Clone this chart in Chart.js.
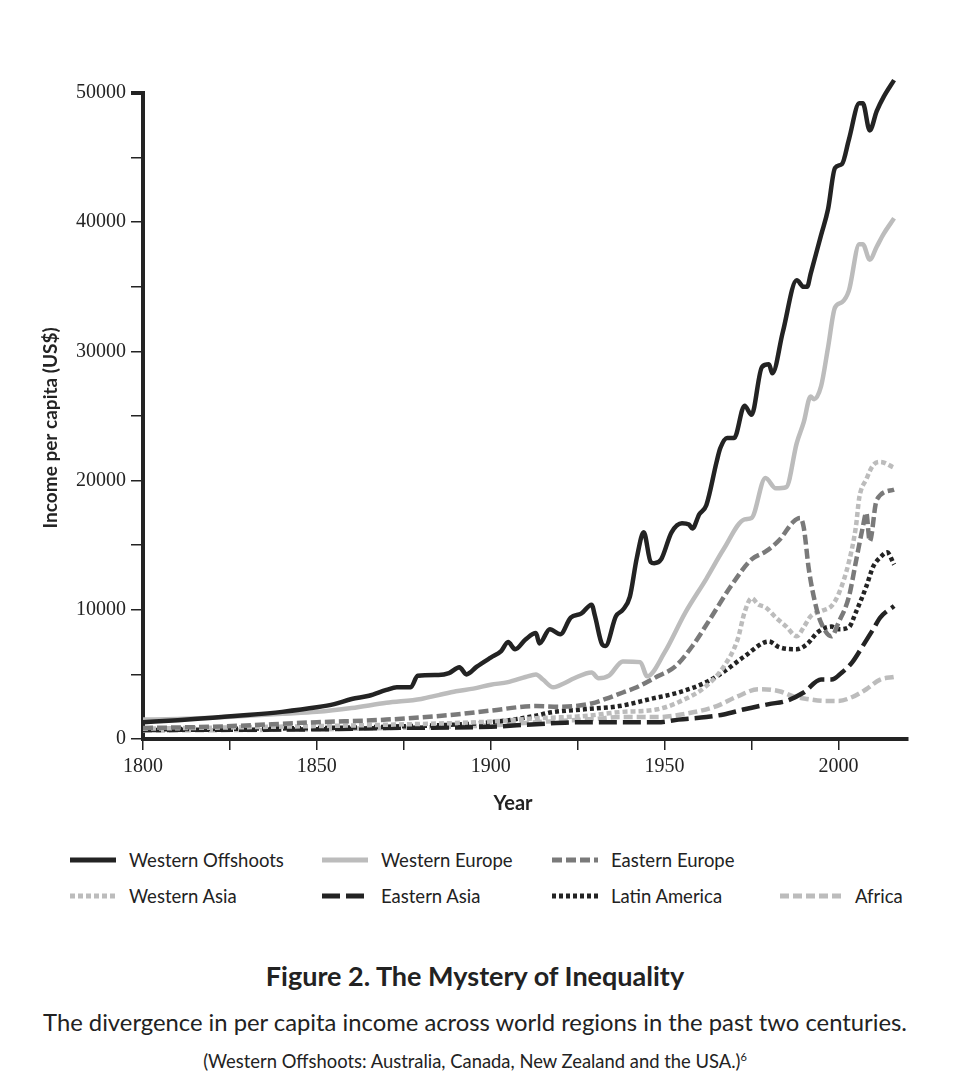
<!DOCTYPE html>
<html>
<head>
<meta charset="utf-8">
<script src="https://cdn.jsdelivr.net/npm/chart.js@4.4.0/dist/chart.umd.min.js"></script>
<style>
  body { margin: 0; background: #fff; width: 977px; height: 1085px; position: relative; overflow: hidden; font-family: Lato, sans-serif; color: #222; }
  #wrap { position: absolute; left: 0; top: 0; width: 977px; height: 830px; }
  .item { position: absolute; height: 20px; display: flex; align-items: center; font-size: 18.5px; white-space: nowrap; }
  .item svg { margin-right: 13px; }
  .caption { position: absolute; left: 0; width: 950px; text-align: center; white-space: nowrap; }
  #title { top: 959px; font-size: 27px; font-weight: bold; line-height: 34px; }
  #subtitle { top: 1007px; font-size: 23.8px; line-height: 30px; }
  #note { top: 1045px; font-size: 18.4px; line-height: 24px; }
  #note sup { font-size: 11px; }
</style>
</head>
<body>
<div id="wrap"><canvas id="chart" width="977" height="830"></canvas></div>
<div id="legend"></div>
<div class="caption" id="title">Figure 2. The Mystery of Inequality</div>
<div class="caption" id="subtitle">The divergence in per capita income across world regions in the past two centuries.</div>
<div class="caption" id="note">(Western Offshoots: Australia, Canada, New Zealand and the USA.)<sup>6</sup></div>
<script>
// --------------------------------
// || Data
// --------------------------------

const offshootsYears = [1800, 1810, 1820, 1830, 1840, 1850, 1855, 1860, 1865, 1870, 1873, 1877, 1879, 1885, 1888, 1891, 1893, 1896, 1900, 1903, 1905, 1907, 1910, 1913, 1914, 1917, 1920, 1923, 1926, 1929, 1930, 1932, 1933, 1936, 1938, 1940, 1942, 1944, 1946, 1947, 1949, 1952, 1955, 1957, 1958, 1960, 1962, 1965, 1966, 1968, 1970, 1973, 1975, 1978, 1980, 1981, 1984, 1988, 1990, 1991, 1992, 1995, 1997, 1999, 2001, 2003, 2006, 2007, 2009, 2011, 2013, 2016];
const offshootsIncome = [1300, 1450, 1650, 1850, 2100, 2450, 2700, 3100, 3350, 3800, 4000, 4000, 4900, 4950, 5100, 5550, 5000, 5600, 6300, 6800, 7500, 6950, 7700, 8200, 7400, 8500, 8100, 9400, 9700, 10400, 9500, 7350, 7200, 9500, 10000, 11000, 14000, 16000, 13700, 13600, 13900, 16000, 16700, 16600, 16300, 17400, 18100, 21500, 22500, 23300, 23300, 25800, 25100, 28800, 29000, 28300, 31500, 35500, 35000, 35000, 36000, 39000, 41000, 44200, 44500, 46400, 49200, 49200, 47100, 48600, 49700, 51000];

const westEuropeYears = [1800, 1810, 1820, 1830, 1840, 1850, 1860, 1870, 1880, 1885, 1890, 1895, 1900, 1905, 1910, 1913, 1915, 1918, 1921, 1924, 1929, 1931, 1934, 1938, 1943, 1945, 1950, 1956, 1962, 1967, 1973, 1975, 1979, 1982, 1985, 1988, 1990, 1992, 1993, 1995, 1997, 1999, 2001, 2003, 2006, 2007, 2009, 2011, 2013, 2016];
const westEuropeIncome = [1500, 1550, 1650, 1800, 1950, 2100, 2400, 2800, 3100, 3400, 3700, 3900, 4200, 4400, 4800, 5000, 4600, 4000, 4300, 4700, 5150, 4700, 4900, 6000, 5950, 4850, 6700, 9800, 12400, 14700, 17000, 17100, 20200, 19400, 19500, 22900, 24500, 26500, 26300, 27300, 30300, 33400, 33800, 34700, 38300, 38300, 37100, 38100, 39100, 40300];

const eastEuropeYears = [1800, 1820, 1850, 1870, 1890, 1900, 1913, 1920, 1929, 1933, 1938, 1942, 1948, 1953, 1958, 1963, 1969, 1975, 1979, 1983, 1987, 1989, 1990, 1991.5, 1993.5, 1995, 1998, 2000, 2003, 2005, 2007, 2008, 2009, 2011, 2016];
const eastEuropeIncome = [850, 950, 1300, 1500, 1900, 2200, 2550, 2500, 2750, 3100, 3600, 4000, 4850, 5600, 7200, 9250, 11800, 13900, 14500, 15400, 16800, 17100, 16400, 13100, 10300, 9000, 7950, 9000, 11000, 13700, 16400, 17500, 15300, 18500, 19300];

const westAsiaYears = [1800, 1850, 1870, 1900, 1913, 1927, 1937, 1948, 1954, 1962, 1967, 1971, 1973, 1975, 1977, 1979, 1982, 1985, 1988, 1990, 1992, 1995, 1998, 2000, 2003, 2005, 2006, 2008, 2010, 2012, 2016];
const westAsiaIncome = [800, 1000, 1100, 1350, 1600, 1780, 2080, 2300, 2850, 4100, 5600, 7700, 9800, 10900, 10400, 10200, 9400, 8700, 7950, 8650, 9500, 9900, 10300, 11200, 13700, 16400, 18700, 20100, 21200, 21450, 21000];

const eastAsiaYears = [1800, 1850, 1870, 1900, 1913, 1927, 1937, 1948, 1954, 1962, 1967, 1973, 1980, 1985, 1990, 1995, 1998, 2001, 2004, 2007, 2010, 2012, 2016];
const eastAsiaIncome = [700, 750, 850, 950, 1150, 1300, 1300, 1300, 1500, 1700, 1900, 2300, 2700, 2950, 3600, 4600, 4600, 5150, 5950, 7200, 8500, 9400, 10300];

const latinYears = [1800, 1850, 1870, 1900, 1913, 1917, 1927, 1937, 1946, 1954, 1962, 1967, 1973, 1980, 1983, 1988, 1991, 1994, 1998, 2000, 2003, 2005, 2008, 2010, 2012, 2014, 2016];
const latinIncome = [750, 850, 950, 1300, 1800, 2050, 2300, 2550, 3100, 3600, 4400, 5200, 6400, 7550, 7100, 6950, 7350, 8250, 8700, 8500, 8650, 9800, 11800, 13350, 14050, 14450, 13500];

const africaYears = [1800, 1850, 1870, 1900, 1913, 1930, 1937, 1948, 1956, 1965, 1971, 1977, 1983, 1987, 1991, 1996, 2000, 2004, 2008, 2012, 2016];
const africaIncome = [650, 750, 850, 1050, 1300, 1550, 1700, 1700, 1950, 2550, 3300, 3850, 3700, 3300, 3100, 2950, 2950, 3250, 3850, 4600, 4800];

const regionLabels = ['Western Offshoots', 'Western Europe', 'Eastern Europe', 'Western Asia', 'Eastern Asia', 'Latin America', 'Africa'];

// --------------------------------
// || Styles
// --------------------------------

const dark = '#232323';
const light = '#bcbcbc';
const mid = '#7a7a7a';

const series = [
    { years: offshootsYears, values: offshootsIncome, color: dark, dash: [] },
    { years: westEuropeYears, values: westEuropeIncome, color: light, dash: [] },
    { years: eastEuropeYears, values: eastEuropeIncome, color: mid, dash: [10, 4] },
    { years: westAsiaYears, values: westAsiaIncome, color: light, dash: [5, 3] },
    { years: eastAsiaYears, values: eastAsiaIncome, color: dark, dash: [18, 6] },
    { years: latinYears, values: latinIncome, color: dark, dash: [4, 3] },
    { years: africaYears, values: africaIncome, color: light, dash: [9, 4] }
];

// legend slots: swatch left, row centre, swatch width
const legendSlots = [
    [70, 860, 46], [322, 860, 46], [552, 860, 46],
    [70, 896, 46], [322, 896, 46], [552, 896, 46], [780, 896, 62]
];

// trailing en spaces nudge the axis titles off centre, like the original
const nudge = '\u2002\u2002 ';

// --------------------------------
// || Chart
// --------------------------------

const datasets = series.map((s, i) => ({
    label: regionLabels[i],
    data: s.years.map((yr, j) => ({ x: yr, y: s.values[j] })),
    borderColor: s.color,
    borderDash: s.dash,
    borderWidth: 4.5,
    pointRadius: 0,
    cubicInterpolationMode: 'monotone',
    fill: false,
    clip: false
}));

const chart = new Chart(document.getElementById('chart'), {
    type: 'line',
    data: { datasets: datasets },
    options: {
        responsive: false,
        animation: false,
        layout: { padding: { left: 0, top: 93, right: 69, bottom: 0 } },
        plugins: {
            legend: { display: false },
            tooltip: { enabled: false }
        },
        scales: {
            x: {
                type: 'linear',
                min: 1800,
                max: 2020,
                afterFit: s => { s.height = 91; },
                border: { color: dark, width: 4 },
                grid: { drawOnChartArea: false, drawTicks: true, tickLength: 11, color: dark, lineWidth: 1.5 },
                ticks: {
                    stepSize: 25,
                    includeBounds: false,
                    autoSkip: false,
                    maxRotation: 0,
                    padding: 5,
                    color: dark,
                    font: { family: '"Liberation Serif", serif', size: 20 },
                    callback: v => (v % 50 === 0 ? String(v) : '')
                },
                title: {
                    display: true,
                    text: 'Year' + nudge,
                    color: dark,
                    font: { family: 'Lato, sans-serif', size: 20, weight: 'bold' },
                    padding: { top: 0, bottom: 14 }
                }
            },
            y: {
                min: 0,
                max: 50000,
                afterFit: s => { s.width = 143; },
                border: { color: dark, width: 4 },
                grid: {
                    drawOnChartArea: false,
                    drawTicks: true,
                    tickLength: 12,
                    color: dark,
                    lineWidth: ctx => (ctx.tick && ctx.tick.value === 50000 ? 4 : 1.5)
                },
                ticks: {
                    stepSize: 5000,
                    autoSkip: false,
                    padding: 5,
                    color: dark,
                    font: { family: '"Liberation Serif", serif', size: 20 },
                    callback: v => (v % 10000 === 0 ? String(v) : '')
                },
                title: {
                    display: true,
                    text: 'Income per capita (US$)' + nudge,
                    color: dark,
                    font: { family: 'Lato, sans-serif', size: 19, weight: 'bold' },
                    padding: { top: 39, bottom: 0 }
                }
            }
        }
    }
});

// --------------------------------
// || Legend
// --------------------------------

const legendEl = document.getElementById('legend');
chart.data.datasets.forEach((ds, i) => {
    const [left, mid, w] = legendSlots[i];
    const item = document.createElement('div');
    item.className = 'item';
    item.style.left = left + 'px';
    item.style.top = (mid - 10) + 'px';
    item.innerHTML =
        '<svg width="' + w + '" height="8"><line x1="0" y1="4" x2="' + w + '" y2="4" stroke="' + ds.borderColor +
        '" stroke-width="5" stroke-dasharray="' + (ds.borderDash.length ? ds.borderDash.join(' ') : 'none') + '"/></svg>' +
        '<span>' + ds.label + '</span>';
    legendEl.append(item);
});
</script>
</body>
</html>
